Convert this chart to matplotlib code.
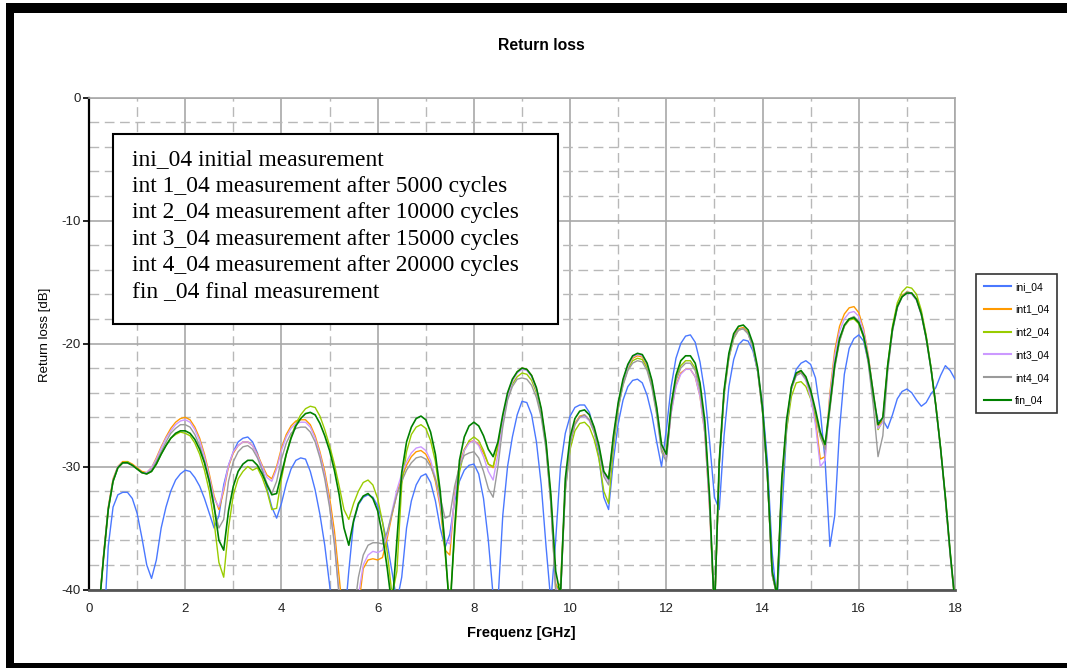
import numpy as np
import matplotlib
matplotlib.use("Agg")
import matplotlib.pyplot as plt
from matplotlib.ticker import MultipleLocator
from matplotlib.patches import Rectangle

plt.rcParams["axes.unicode_minus"] = False

# ---------------- data ----------------
freq = np.linspace(0, 18, 181)  # GHz sweep, 0.1 GHz step

ini_04 = [
    -45, -45, -45, -44, -36.5, -33.3, -32.3, -32.1, -32.1, -32.6,
    -33.8, -35.8, -38.0, -39.1, -37.6, -35.0, -33.3, -32.0, -31.1, -30.6,
    -30.3, -30.4, -30.9, -31.6, -32.6, -33.8, -35.0, -34.0, -31.5, -29.9,
    -28.8, -28.0, -27.7, -27.6, -28.0, -28.9, -30.2, -31.8, -33.3, -34.2,
    -33.0, -31.4, -30.2, -29.5, -29.3, -29.4, -30.4, -31.9, -33.9, -36.4,
    -39.6, -43, -43, -43, -38.5, -34.5, -33.1, -32.5, -32.3, -32.5,
    -33.2, -34.5, -36.3, -38.6, -41.0, -39.0, -35.0, -32.8, -31.5, -30.8,
    -30.6, -31.3, -32.8, -35.0, -36.6, -35.5, -32.8, -31.2, -30.3, -29.9,
    -29.8, -30.6, -32.6, -36.0, -40.5, -41.0, -34.0, -30.0, -27.6, -25.8,
    -24.7, -24.8, -25.8, -28.0, -31.5, -36.5, -41.0, -36.0, -30.0, -27.3,
    -25.9, -25.2, -25.0, -25.0, -25.6, -27.0, -29.3, -32.5, -33.5, -29.5,
    -26.5, -24.6, -23.5, -23.0, -22.9, -23.2, -24.2, -25.8, -28.0, -30.0,
    -27.0, -23.5, -21.2, -20.0, -19.4, -19.3, -19.9, -21.5, -24.0, -28.0,
    -32.5, -33.5, -27.5, -23.5, -21.3, -20.1, -19.7, -19.8, -20.6, -22.3,
    -25.0, -29.5, -37.0, -41.0, -34.0, -27.0, -23.6, -22.1, -21.6, -21.4,
    -21.7, -22.8, -25.5, -29.5, -36.5, -34.0, -27.0, -22.5, -20.4, -19.6,
    -19.3, -19.8, -21.5, -24.5, -26.3, -26.2, -26.9, -25.8, -24.5, -23.9,
    -23.7, -24.0, -24.6, -25.1, -24.8, -24.1, -23.6, -22.6, -21.8, -22.2,
    -22.9]

int1_04 = [
    -45, -45, -42, -37.3, -33.3, -31.0, -30.0, -29.6, -29.6, -29.8,
    -30.1, -30.4, -30.5, -30.1, -29.3, -28.4, -27.6, -26.9, -26.4, -26.1,
    -26.0, -26.2, -26.8, -27.7, -29.0, -30.6, -32.4, -33.5, -32.0, -30.0,
    -28.9, -28.3, -28.0, -28.0, -28.3, -29.0, -29.9, -30.7, -31.0, -30.0,
    -28.5, -27.4, -26.7, -26.3, -26.2, -26.2, -26.6, -27.5, -28.8, -30.4,
    -32.5, -35.2, -39.0, -43, -43, -43, -41.5, -38.3, -37.6, -37.5,
    -37.6, -37.4, -35.8, -33.9, -32.2, -30.9, -29.9, -29.2, -28.8, -28.7,
    -29.0, -29.8, -31.2, -33.3, -36.8, -37.2, -32.3, -29.8, -28.6, -28.0,
    -27.9, -28.2, -28.9, -29.8, -30.1, -28.4, -26.1, -24.2, -23.0, -22.3,
    -22.0, -22.1, -22.6, -23.7, -25.4, -28.2, -32.6, -39.5, -40.5, -31.5,
    -28.0, -26.5, -25.9, -25.8, -26.2, -27.1, -28.5, -30.5, -31.0, -27.7,
    -25.0, -23.1, -21.9, -21.2, -21.0, -21.1, -21.8, -23.2, -25.4, -28.4,
    -29.2, -25.6, -23.4, -22.4, -22.1, -22.1, -22.7, -24.3, -27.3, -33.5,
    -42.0, -29.8, -24.0, -21.0, -19.4, -18.8, -18.7, -19.1, -20.2, -22.2,
    -25.5, -30.7, -38.8, -40.5, -31.2, -26.4, -23.6, -22.5, -22.3, -22.9,
    -24.2, -26.2, -29.4, -29.2, -24.0, -20.6, -18.6, -17.6, -17.1, -17.0,
    -17.5, -18.8, -21.0, -24.0, -26.8, -26.2, -22.0, -18.9, -17.0, -16.1,
    -15.8, -15.9, -16.4, -17.6, -19.5, -22.0, -25.0, -28.5, -32.6, -37.2,
    -41.0]

int2_04 = [
    -45, -45, -42, -37.5, -33.5, -31.2, -30.1, -29.7, -29.6, -29.9,
    -30.2, -30.5, -30.6, -30.4, -29.8, -29.0, -28.3, -27.7, -27.4, -27.2,
    -27.3, -27.5, -28.1, -29.0, -30.3, -32.0, -34.5, -37.8, -39.0, -35.0,
    -32.3, -31.0, -30.4, -30.0, -30.3, -30.1, -30.9, -32.0, -33.5, -33.4,
    -31.0, -29.0, -27.6, -26.5, -25.8, -25.3, -25.1, -25.2, -25.9, -27.0,
    -28.3, -29.8, -31.6, -33.5, -34.3, -33.0, -32.0, -31.3, -31.1, -31.5,
    -32.6, -34.5, -37.0, -40.5, -38.5, -31.5, -28.8, -27.4, -26.8, -26.6,
    -26.9, -27.9, -29.6, -32.5, -37.0, -41.5, -35.5, -30.5, -28.7, -27.9,
    -27.6, -27.9, -28.7, -29.8, -30.0, -28.3, -26.2, -24.4, -23.3, -22.7,
    -22.4, -22.5, -23.0, -24.0, -25.7, -28.4, -33.0, -40.0, -39.5, -32.0,
    -28.6, -27.1, -26.5, -26.4, -26.8, -27.8, -29.4, -32.0, -33.0, -28.5,
    -25.3, -23.3, -22.1, -21.4, -21.2, -21.3, -22.0, -23.4, -25.6, -28.6,
    -29.3, -25.1, -22.9, -21.8, -21.4, -21.4, -22.0, -23.6, -26.7, -33.0,
    -42.0, -29.9, -24.2, -21.2, -19.6, -18.9, -18.8, -19.2, -20.3, -22.3,
    -25.6, -30.8, -38.8, -40.5, -31.8, -27.0, -24.3, -23.2, -23.1, -23.5,
    -24.5, -25.9, -27.5, -28.4, -25.2, -21.9, -19.8, -18.6, -18.1, -18.0,
    -18.4, -19.5, -21.4, -24.2, -27.0, -26.3, -21.8, -18.6, -16.7, -15.8,
    -15.4, -15.5, -16.0, -17.3, -19.3, -21.9, -25.0, -28.5, -32.5, -37.0,
    -41.0]

int3_04 = [
    -45, -45, -42, -37.4, -33.4, -31.1, -30.0, -29.7, -29.7, -29.9,
    -30.2, -30.5, -30.5, -30.1, -29.4, -28.5, -27.7, -27.1, -26.6, -26.3,
    -26.2, -26.4, -27.0, -27.9, -29.2, -30.8, -32.6, -33.3, -31.8, -29.9,
    -28.8, -28.3, -28.0, -28.0, -28.3, -29.1, -30.0, -30.9, -31.2, -30.2,
    -28.7, -27.6, -26.9, -26.5, -26.4, -26.4, -26.8, -27.7, -29.0, -30.7,
    -33.0, -36.0, -40.5, -43, -43, -43, -40.5, -38.0, -37.2, -36.9,
    -37.0, -36.8, -35.5, -33.6, -31.9, -30.6, -29.6, -28.9, -28.5, -28.4,
    -28.7, -29.5, -30.9, -33.0, -36.0, -36.3, -32.5, -30.0, -28.7, -28.1,
    -27.9, -28.3, -29.2, -30.4, -31.1, -29.0, -26.4, -24.4, -23.1, -22.4,
    -22.1, -22.2, -22.7, -23.8, -25.5, -28.3, -32.8, -39.8, -40.5, -31.8,
    -28.1, -26.6, -26.0, -25.9, -26.3, -27.2, -28.6, -30.6, -31.2, -27.8,
    -25.0, -23.1, -21.9, -21.1, -20.9, -21.0, -21.7, -23.1, -25.3, -28.3,
    -29.3, -25.7, -23.5, -22.5, -22.1, -22.1, -22.7, -24.3, -27.3, -33.5,
    -42.0, -29.8, -24.0, -21.0, -19.5, -18.9, -18.8, -19.2, -20.3, -22.3,
    -25.6, -30.8, -38.8, -40.5, -31.3, -26.5, -23.7, -22.6, -22.4, -23.0,
    -24.4, -26.6, -30.0, -29.5, -24.3, -21.0, -19.0, -18.0, -17.5, -17.4,
    -17.8, -19.0, -21.1, -24.0, -26.9, -26.4, -22.1, -19.0, -17.1, -16.2,
    -15.9, -16.0, -16.5, -17.7, -19.6, -22.1, -25.1, -28.6, -32.7, -37.3,
    -41.0]

int4_04 = [
    -45, -45, -42, -37.5, -33.5, -31.2, -30.1, -29.7, -29.7, -29.9,
    -30.2, -30.5, -30.6, -30.3, -29.6, -28.8, -28.0, -27.3, -26.9, -26.6,
    -26.6, -26.8, -27.4, -28.3, -29.6, -31.3, -33.4, -35.0, -34.3, -31.2,
    -29.6, -28.8, -28.4, -28.3, -28.6, -29.3, -30.3, -31.4, -32.2, -31.2,
    -29.4, -28.1, -27.3, -26.9, -26.8, -26.8, -27.2, -28.0, -29.3, -31.0,
    -33.3, -36.3, -40.5, -43, -43, -42, -39.0, -37.2, -36.4, -36.2,
    -36.2, -36.3, -35.3, -33.8, -32.3, -31.2, -30.3, -29.7, -29.3, -29.2,
    -29.4, -30.0, -31.0, -32.5, -34.2, -34.0, -31.6, -30.0, -29.1, -28.9,
    -28.8, -29.3, -30.4, -31.8, -32.5, -30.0, -26.8, -24.6, -23.5, -22.9,
    -22.8, -22.9, -23.4, -24.4, -26.0, -28.6, -33.0, -40.0, -40.5, -32.0,
    -28.2, -26.6, -26.0, -25.8, -26.2, -27.2, -28.7, -30.8, -31.5, -28.0,
    -25.2, -23.4, -22.2, -21.6, -21.4, -21.5, -22.2, -23.6, -25.8, -28.8,
    -29.6, -25.4, -23.0, -22.0, -21.6, -21.6, -22.2, -23.8, -26.9, -33.0,
    -42.0, -29.8, -24.1, -21.1, -19.5, -18.9, -18.8, -19.2, -20.3, -22.3,
    -25.6, -30.8, -38.8, -40.5, -31.3, -26.5, -23.7, -22.6, -22.4, -22.9,
    -24.0, -25.6, -27.6, -28.6, -25.4, -22.0, -19.8, -18.6, -18.0, -17.8,
    -18.2, -19.4, -21.7, -25.0, -29.2, -27.5, -22.3, -19.0, -17.1, -16.2,
    -15.8, -15.9, -16.4, -17.6, -19.5, -22.0, -25.0, -28.5, -32.5, -37.0,
    -41.0]

fin_04 = [
    -45, -45, -42, -37.5, -33.5, -31.2, -30.1, -29.7, -29.7, -29.9,
    -30.2, -30.5, -30.6, -30.4, -29.8, -29.0, -28.3, -27.7, -27.3, -27.1,
    -27.1, -27.3, -27.8, -28.6, -29.7, -31.2, -33.2, -36.0, -36.8, -33.6,
    -31.6, -30.4, -29.8, -29.5, -29.5, -29.9, -30.6, -31.5, -32.3, -32.2,
    -30.6, -29.0, -27.7, -26.7, -26.1, -25.7, -25.6, -25.8, -26.5, -27.5,
    -28.7, -30.3, -32.3, -35.0, -36.4, -34.4, -33.0, -32.4, -32.2, -32.6,
    -33.6, -35.6, -38.3, -41.5, -36.0, -30.5, -28.0, -26.8, -26.1, -25.9,
    -26.2, -27.2, -29.0, -32.0, -36.5, -42.0, -35.0, -29.5, -27.6, -26.7,
    -26.4, -26.7, -27.5, -28.6, -29.2, -28.0, -25.8, -24.0, -22.9, -22.3,
    -22.0, -22.1, -22.6, -23.6, -25.3, -28.0, -32.3, -38.5, -40.5, -31.0,
    -27.6, -26.1, -25.5, -25.4, -25.8, -26.8, -28.3, -30.4, -31.0, -27.5,
    -24.8, -22.9, -21.7, -21.0, -20.8, -20.9, -21.6, -23.0, -25.2, -28.2,
    -29.0, -25.0, -22.6, -21.4, -21.0, -21.0, -21.6, -23.2, -26.3, -32.5,
    -42.0, -29.5, -23.8, -20.8, -19.2, -18.6, -18.5, -18.9, -20.0, -22.0,
    -25.3, -30.5, -38.5, -40.5, -31.0, -26.2, -23.5, -22.4, -22.2, -22.7,
    -23.8, -25.4, -27.2, -28.2, -25.0, -21.7, -19.6, -18.5, -18.0, -17.9,
    -18.3, -19.4, -21.3, -24.0, -26.6, -26.0, -21.8, -18.8, -17.0, -16.2,
    -15.9, -15.9, -16.4, -17.6, -19.5, -22.0, -25.0, -28.5, -32.5, -37.0,
    -41.0]

series_labels = ["ini_04", "int1_04", "int2_04", "int3_04", "int4_04", "fin_04"]
series_values = [ini_04, int1_04, int2_04, int3_04, int4_04, fin_04]
series_colors = ["#4a78ff", "#ff9a00", "#99cc00", "#cc99ff", "#9a9a9a", "#008000"]
series_widths = [1.0, 1.0, 1.0, 1.0, 1.0, 1.2]

x_ticks = [0, 2, 4, 6, 8, 10, 12, 14, 16, 18]
y_ticks = [0, -10, -20, -30, -40]

note_lines = [
    "ini_04 initial measurement",
    "int 1_04 measurement after 5000 cycles",
    "int 2_04 measurement after 10000 cycles",
    "int 3_04 measurement after 15000 cycles",
    "int 4_04 measurement after 20000 cycles",
    "fin _04 final measurement",
]

# ---------------- figure ----------------
W, H = 1067, 668
fig = plt.figure(figsize=(W / 100, H / 100), dpi=100)
fig.patch.set_facecolor("white")

def fx(px):
    return px / W

def fy(py):
    return 1 - py / H

# outer frame (top, left, bottom bars)
for (x0, y0, x1, y1) in [(6, 3, W, 13), (6, 3, 14, H), (6, 663, W, H)]:
    fig.patches.append(Rectangle((fx(x0), fy(y1)), fx(x1) - fx(x0), fy(y0) - fy(y1),
                                 transform=fig.transFigure, facecolor="black",
                                 edgecolor="none", zorder=0))

ax_l, ax_r, ax_t, ax_b = 89, 955, 97.5, 589.5
ax = fig.add_axes([fx(ax_l), fy(ax_b), fx(ax_r) - fx(ax_l), fy(ax_t) - fy(ax_b)])

lines = []
for lab, vals, col, lw in zip(series_labels, series_values, series_colors, series_widths):
    ln, = ax.plot(freq, vals, color=col, lw=lw, label=lab, zorder=3)
    lines.append(ln)

ax.set_xlim(0, 18)
ax.set_ylim(-40, 0)
ax.set_xticks(x_ticks)
ax.set_yticks(y_ticks)
ax.xaxis.set_minor_locator(MultipleLocator(1))
ax.yaxis.set_minor_locator(MultipleLocator(2))
ax.grid(which="major", color="#a8a8a8", lw=1.2, ls="-", zorder=1)
ax.grid(which="minor", color="#b8b8b8", lw=1.0, ls=(0, (7, 4)), zorder=1)
ax.set_axisbelow(True)

ax.tick_params(axis="x", which="major", length=0, pad=10, labelsize=9.5, labelcolor="#222222")
ax.tick_params(axis="y", which="major", length=4, width=1.2, direction="out",
               pad=2, labelsize=9.5, labelcolor="#222222")
ax.tick_params(which="minor", length=0)

ax.spines["left"].set_color("black")
ax.spines["left"].set_linewidth(1.6)
ax.spines["bottom"].set_color("#555555")
ax.spines["bottom"].set_linewidth(2.0)
for s in ("top", "right"):
    ax.spines[s].set_color("#a8a8a8")
    ax.spines[s].set_linewidth(1.2)

# titles / labels
fig.text(fx(541), fy(45), "Return loss", ha="center", va="center",
         fontsize=11.3, fontweight="bold", family="Liberation Sans")
fig.text(fx(521), fy(633), "Frequenz [GHz]", ha="center", va="center",
         fontsize=10.5, fontweight="bold", family="Liberation Sans")
fig.text(fx(45), fy(335), "Return loss [dB]", ha="center", va="center",
         rotation=90, fontsize=9.5, family="Liberation Sans")
for lab in ax.get_xticklabels() + ax.get_yticklabels():
    lab.set_family("Liberation Sans")

# annotation box
box = Rectangle((fx(113), fy(324)), fx(558) - fx(113), fy(134) - fy(324),
                transform=fig.transFigure, facecolor="white", edgecolor="black",
                lw=1.5, zorder=5)
fig.patches.append(box)
baselines = [165, 191.5, 218, 244.5, 271, 297.5]
for txt, b in zip(note_lines, baselines):
    fig.text(fx(132), fy(b), txt, ha="left", va="baseline", fontsize=16.9,
             family="Liberation Serif", zorder=6)

# legend
leg = fig.legend(handles=lines, labels=series_labels, loc="upper left",
                 bbox_to_anchor=(fx(976), fy(274)), bbox_transform=fig.transFigure,
                 borderaxespad=0, handlelength=2.6, handletextpad=0.4,
                 labelspacing=1.22, borderpad=0.75, fancybox=False, frameon=True,
                 prop={"family": "Liberation Sans", "size": 7.5})
leg.get_frame().set_edgecolor("black")
leg.get_frame().set_linewidth(1.2)
for lh in leg.get_lines():
    lh.set_linewidth(1.5)

fig.savefig("out.png", dpi=100)
